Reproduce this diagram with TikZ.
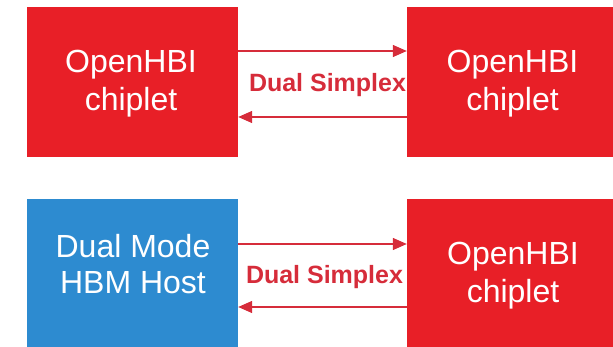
\documentclass[tikz,border=0pt]{standalone}
\usepackage{fontspec}
\setmainfont{Liberation Sans}
\usetikzlibrary{arrows.meta}
\definecolor{chipred}{RGB}{232,31,39}
\definecolor{hostblue}{RGB}{45,139,208}
\definecolor{linkred}{RGB}{214,44,58}
\tikzset{
  block/.style={fill=#1, draw=none, minimum width=211pt, minimum height=150pt, inner sep=0pt},
  blocktext/.style={text=white, align=center, inner sep=0pt, font=\fontsize{32}{38}\selectfont},
  link/.style={draw=linkred, line width=1.3pt, -{Triangle[length=14pt,width=12pt]}},
  linklabel/.style={text=linkred, inner sep=0pt, anchor=base, font=\fontsize{25}{30}\selectfont\bfseries}
}
\begin{document}
\begin{tikzpicture}[x=1pt,y=-1pt]
  \useasboundingbox (0,0) rectangle (613,347);
  \begin{scope}
    \clip (0,0) rectangle (613,347);
    % chiplet and host blocks
    \node[block=chipred]  (tl) at (132.5,82)  {};
    \node[block=chipred]  (tr) at (512.5,82)  {};
    \node[block=hostblue] (bl) at (132.5,274) {};
    \node[block=chipred]  (br) at (512.5,274) {};
  \end{scope}
  % block captions
  \node[blocktext] (tltext) at (131,83.65)   {OpenHBI\\chiplet};
  \node[blocktext] (trtext) at (512.5,83.65) {OpenHBI\\chiplet};
  \node[blocktext, font=\fontsize{32}{36}\selectfont] (bltext) at (133,264.55) {Dual Mode\\HBM Host};
  \node[blocktext] (brtext) at (513,275.65)  {OpenHBI\\chiplet};
  % dual simplex links, upper pair
  \draw[link] (tl.east |- 0,51)  -- (tr.west |- 0,51);
  \draw[link] (tr.west |- 0,117) -- (tl.east |- 0,117);
  \node[linklabel] (toplabel) at (327.5,92) {Dual Simplex};
  % dual simplex links, lower pair
  \draw[link] (bl.east |- 0,244) -- (br.west |- 0,244);
  \draw[link] (br.west |- 0,307) -- (bl.east |- 0,307);
  \node[linklabel] (botlabel) at (324.5,284) {Dual Simplex};
\end{tikzpicture}
\end{document}
